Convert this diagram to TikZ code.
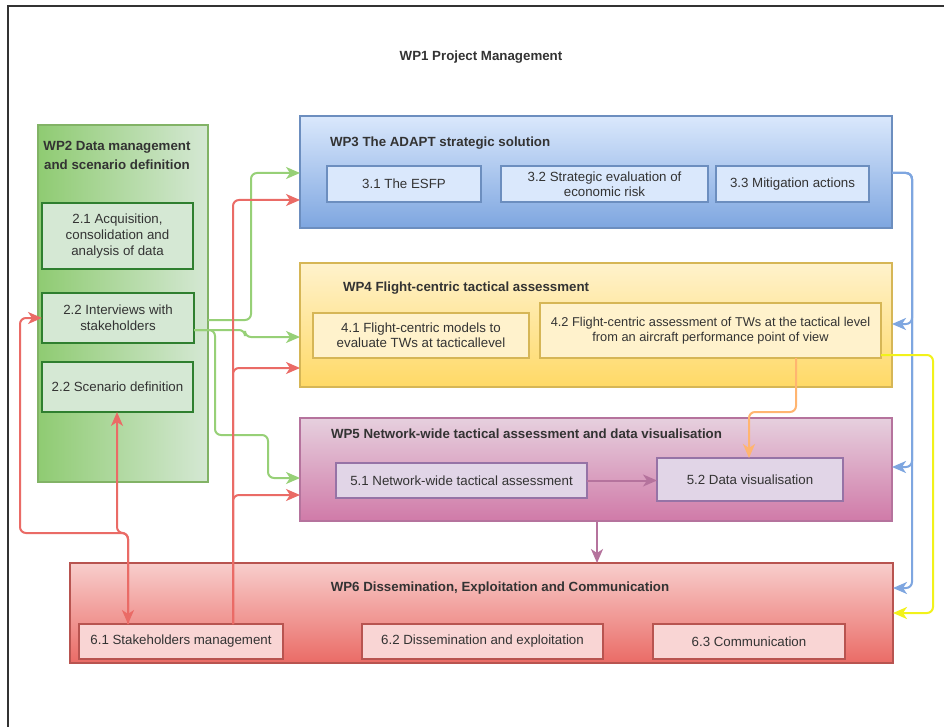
\documentclass[tikz,border=0pt]{standalone}
\usepackage{fontspec}
\setmainfont{Liberation Sans}
\usetikzlibrary{arrows.meta}
\definecolor{txt}{HTML}{333333}
\definecolor{grnL}{HTML}{D5E8D4}
\definecolor{grnD}{HTML}{8FCB72}
\definecolor{grnB}{HTML}{82B366}
\definecolor{grnS}{HTML}{2F7F2F}
\definecolor{bluL}{HTML}{DAE8FC}
\definecolor{bluD}{HTML}{7EA6E0}
\definecolor{bluB}{HTML}{6C8EBF}
\definecolor{yelL}{HTML}{FFF2CC}
\definecolor{yelD}{HTML}{FFD966}
\definecolor{yelB}{HTML}{D6B656}
\definecolor{purL}{HTML}{E6D0DE}
\definecolor{purD}{HTML}{D07AA8}
\definecolor{purB}{HTML}{B5739D}
\definecolor{purS}{HTML}{E1D5E7}
\definecolor{purSB}{HTML}{9673A6}
\definecolor{redL}{HTML}{F8CECC}
\definecolor{redD}{HTML}{EA6B66}
\definecolor{redB}{HTML}{B85450}
\definecolor{arG}{HTML}{97D077}
\definecolor{arR}{HTML}{EA6B66}
\definecolor{arB}{HTML}{7EA6E0}
\definecolor{arY}{HTML}{F2F21A}
\definecolor{arO}{HTML}{FFB570}
\definecolor{arP}{HTML}{B5739D}
\begin{document}
\begin{tikzpicture}[x=1pt,y=-1pt,
  every node/.style={inner sep=0pt,outer sep=0pt,text=txt,
    font=\fontsize{13.3}{16}\selectfont,align=center},
  big/.style={draw,line width=1.5pt},
  wpgreen/.style={big,draw=grnB,left color=grnD,right color=grnL},
  wpblue/.style={big,draw=bluB,top color=bluL,bottom color=bluD},
  wpyellow/.style={big,draw=yelB,top color=yelL,bottom color=yelD},
  wppurple/.style={big,draw=purB,top color=purL,bottom color=purD},
  wpred/.style={big,draw=redB,top color=redL,bottom color=redD},
  subg/.style={draw=grnS,line width=2.5pt,fill=grnL},
  subb/.style={draw=bluB,line width=1.5pt,fill=bluL},
  suby/.style={draw=yelB,line width=1.5pt,fill=yelL},
  subp/.style={draw=purSB,line width=1.5pt,fill=purS},
  subr/.style={draw=redB,line width=1.5pt,fill=redL!85!white},
  ttl/.style={font=\fontsize{13.3}{19}\selectfont\bfseries},
  tip/.tip={Stealth[length=14pt,width=12pt,inset=4pt]},
  conn/.style={line width=2pt,rounded corners=6pt,-tip},
  gconn/.style={conn,draw=arG},
  rconn/.style={conn,draw=arR},
  bconn/.style={conn,draw=arB},
  yconn/.style={conn,draw=arY},
  oconn/.style={conn,draw=arO},
  pconn/.style={conn,draw=arP}]
\useasboundingbox (0,0) rectangle (944,727);
\fill[white] (0,0) rectangle (944,727);
% frame
\draw[line width=2pt,draw=black!80] (8,727) -- (8,6) -- (944,6);
\node[ttl] (wp1) at (481,57) {WP1 Project Management};

% work packages
\node[wpgreen,minimum width=170pt,minimum height=357pt] (wp2) at (123,303.5) {};
\node[wpblue,minimum width=592pt,minimum height=112pt] (wp3) at (596,172) {};
\node[wpyellow,minimum width=592pt,minimum height=124pt] (wp4) at (596,325) {};
\node[wppurple,minimum width=592pt,minimum height=103pt] (wp5) at (596,469.5) {};
\node[wpred,minimum width=823pt,minimum height=100pt] (wp6) at (481.5,613) {};

% titles
\node[ttl] (t2) at (117,155) {WP2 Data management\\and scenario definition};
\node[ttl,anchor=west] (t3) at (330,143) {WP3 The ADAPT strategic solution};
\node[ttl,anchor=west] (t4) at (343,288) {WP4 Flight-centric tactical assessment};
\node[ttl,anchor=west] (t5) at (331,434) {WP5 Network-wide tactical assessment and data visualisation};
\node[ttl] (t6) at (500,588) {WP6 Dissemination, Exploitation and Communication};

% sub boxes
\node[subg,minimum width=151pt,minimum height=66pt] (s21) at (117.5,236) {2.1 Acquisition,\\consolidation and\\analysis of data};
\node[subg,minimum width=152pt,minimum height=50pt] (i22) at (118,318) {2.2 Interviews with\\stakeholders};
\node[subg,minimum width=151pt,minimum height=50pt] (scen) at (117.5,387) {2.2 Scenario definition};

\node[subb,minimum width=154pt,minimum height=36pt] (s31) at (404,184) {3.1 The ESFP};
\node[subb,minimum width=207pt,minimum height=36pt,font=\fontsize{13.3}{15}\selectfont] (s32) at (604.5,184) {3.2 Strategic evaluation of\\economic risk};
\node[subb,minimum width=153pt,minimum height=36pt] (s33) at (792.5,184) {3.3 Mitigation actions};

\node[suby,minimum width=216pt,minimum height=45pt,font=\fontsize{13.3}{15}\selectfont] (s41) at (421,335.5) {4.1 Flight-centric models to\\evaluate TWs at tacticallevel};
\node[suby,minimum width=341pt,minimum height=55pt,font=\fontsize{12.8}{15}\selectfont] (s42) at (710.5,330.5) {4.2 Flight-centric assessment of TWs at the tactical level\\from an aircraft performance point of view};

\node[subp,minimum width=251pt,minimum height=35pt] (s51) at (461.5,480.5) {5.1 Network-wide tactical assessment};
\node[subp,minimum width=186pt,minimum height=43pt] (s52) at (750,479.5) {5.2 Data visualisation};

\node[subr,minimum width=204pt,minimum height=35pt] (s61) at (181,641.5) {6.1 Stakeholders management};
\node[subr,minimum width=241pt,minimum height=35pt] (s62) at (482.5,641.5) {6.2 Dissemination and exploitation};
\node[subr,minimum width=192pt,minimum height=35pt] (s63) at (749,641.5) {6.3 Communication};

% green connectors
\draw[gconn] (wp2.east |- 0,320) -- (251,320) -- (251,173) -- (wp3.west |- 0,173);
\draw[gconn] (i22.east |- 0,330) -- (245,330) -- (245,337) -- (wp4.west |- 0,337);
\draw[gconn] (i22.east |- 0,330) -- (215,330) -- (215,435) -- (268,435) -- (268,478) -- (wp5.west |- 0,478);

% red connectors from 6.1
\draw[rconn] (s61.north -| 233,0) -- (233,200) -- (wp3.west |- 0,200);
\draw[rconn] (s61.north -| 233,0) -- (233,368) -- (wp4.west |- 0,368);
\draw[rconn] (s61.north -| 233,0) -- (233,495) -- (wp5.west |- 0,495);
\draw[rconn] (s61.north -| 128,0) -- (128,533) -- (20,533) -- (20,318) -- (i22.west |- 0,318);
\draw[rconn,tip-tip] (scen.south -| 117,0) -- (117,533) -- (128,533) -- (s61.north -| 128,0);

% blue connectors from WP3
\draw[bconn] (wp3.east |- 0,173) -- (912,173) -- (912,324) -- (wp4.east |- 0,324);
\draw[bconn] (wp3.east |- 0,173) -- (912,173) -- (912,467) -- (wp5.east |- 0,467);
\draw[bconn] (wp3.east |- 0,173) -- (912,173) -- (912,588) -- (wp6.east |- 0,588);

% yellow
\draw[yconn] (s42.east |- 0,355) -- (933,355) -- (933,613) -- (wp6.east |- 0,613);

% orange
\draw[oconn] (s42.south -| 796,0) -- (796,412) -- (749,412) -- (s52.north -| 749,0);

% purple
\draw[pconn] (s51.east) -- (s52.west |- s51.east);
\draw[pconn] (wp5.south -| 597,0) -- (wp6.north -| 597,0);
\end{tikzpicture}
\end{document}
